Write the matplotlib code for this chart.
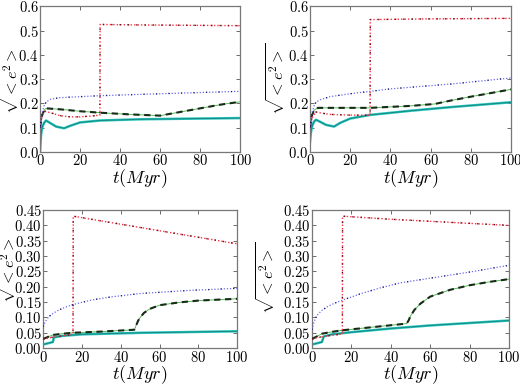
import matplotlib
matplotlib.use("Agg")
import matplotlib.pyplot as plt
from matplotlib.ticker import FuncFormatter, MultipleLocator

plt.rcParams['mathtext.fontset'] = 'cm'
plt.rcParams['font.family'] = 'serif'
plt.rcParams['font.serif'] = ['DejaVu Serif']

# ---- data (t in Myr, values sqrt(<e^2>)) ----
# top-left
tl_red_t = [0, 1, 2.5, 6, 10, 15, 20, 25, 29.9, 30, 50, 100]
tl_red_y = [0.10, 0.15, 0.168, 0.16, 0.15, 0.145, 0.145, 0.148, 0.152, 0.525, 0.523, 0.52]
tl_blue_t = [0, 1, 2, 3, 5, 10, 20, 30, 60, 100]
tl_blue_y = [0.10, 0.16, 0.19, 0.205, 0.217, 0.224, 0.228, 0.232, 0.24, 0.25]
tl_green_t = [0, 1, 2, 3, 10, 20, 30, 45, 60, 62, 70, 80, 90, 100]
tl_green_y = [0.10, 0.15, 0.172, 0.18, 0.176, 0.168, 0.162, 0.155, 0.15, 0.153, 0.165, 0.18, 0.195, 0.207]
tl_cyan_t = [0, 0.5, 1, 2, 3, 5, 8, 12, 15, 20, 30, 50, 100]
tl_cyan_y = [0.0, 0.07, 0.1, 0.12, 0.13, 0.12, 0.105, 0.098, 0.108, 0.122, 0.13, 0.135, 0.14]

# top-right
tr_red_t = [0, 1, 3, 6, 10, 20, 29.9, 30, 60, 100]
tr_red_y = [0.10, 0.14, 0.165, 0.16, 0.155, 0.152, 0.152, 0.545, 0.548, 0.55]
tr_blue_t = [0, 1, 2, 3, 5, 10, 20, 30, 40, 70, 100]
tr_blue_y = [0.10, 0.16, 0.19, 0.205, 0.215, 0.228, 0.24, 0.25, 0.26, 0.28, 0.305]
tr_green_t = [0, 1, 2, 4, 10, 30, 50, 62, 70, 80, 90, 100]
tr_green_y = [0.10, 0.15, 0.172, 0.182, 0.182, 0.182, 0.19, 0.198, 0.212, 0.228, 0.243, 0.258]
tr_cyan_t = [0, 0.5, 1, 2, 3, 5, 8, 12, 15, 20, 30, 50, 70, 100]
tr_cyan_y = [0.04, 0.08, 0.105, 0.125, 0.133, 0.125, 0.112, 0.105, 0.12, 0.138, 0.153, 0.17, 0.185, 0.205]

# bottom-left
bl_red_t = [0, 2, 5, 10, 15.4, 15.5, 100]
bl_red_y = [0.03, 0.032, 0.036, 0.04, 0.045, 0.43, 0.34]
bl_blue_t = [0, 1, 2, 3, 5, 8, 12, 16, 25, 35, 50, 75, 100]
bl_blue_y = [0.07, 0.085, 0.095, 0.103, 0.113, 0.124, 0.135, 0.143, 0.157, 0.167, 0.178, 0.188, 0.195]
bl_green_t = [0, 3, 5, 10, 15, 30, 47, 48, 49, 50, 52, 55, 60, 70, 80, 100]
bl_green_y = [0.03, 0.038, 0.043, 0.047, 0.05, 0.054, 0.06, 0.075, 0.09, 0.1, 0.115, 0.128, 0.14, 0.149, 0.155, 0.161]
bl_cyan_t = [0, 2, 5, 5.5, 10, 20, 50, 100]
bl_cyan_y = [0.012, 0.015, 0.02, 0.035, 0.04, 0.045, 0.05, 0.055]

# bottom-right
br_red_t = [0, 2, 5, 10, 15.4, 15.5, 40, 100]
br_red_y = [0.03, 0.033, 0.037, 0.042, 0.046, 0.43, 0.42, 0.40]
br_blue_t = [0, 1, 2, 3, 5, 8, 12, 17, 25, 35, 45, 60, 80, 100]
br_blue_y = [0.06, 0.085, 0.1, 0.11, 0.123, 0.136, 0.148, 0.16, 0.178, 0.197, 0.213, 0.228, 0.248, 0.27]
br_green_t = [0, 3, 5, 10, 15, 30, 48, 49, 50, 52, 55, 60, 70, 80, 90, 100]
br_green_y = [0.03, 0.04, 0.047, 0.053, 0.058, 0.068, 0.08, 0.09, 0.105, 0.125, 0.145, 0.168, 0.19, 0.205, 0.216, 0.225]
br_cyan_t = [0, 2, 5, 6, 10, 20, 40, 60, 80, 100]
br_cyan_y = [0.012, 0.015, 0.02, 0.038, 0.045, 0.052, 0.064, 0.074, 0.082, 0.09]

panels = [
    dict(rect=[0.077, 0.609, 0.385, 0.375], ymax=0.6, ystep=0.1, fmt='%.1f',
         ylab=(-0.092, 0.51),
         red=(tl_red_t, tl_red_y), blue=(tl_blue_t, tl_blue_y),
         green=(tl_green_t, tl_green_y), cyan=(tl_cyan_t, tl_cyan_y)),
    dict(rect=[0.596, 0.609, 0.387, 0.375], ymax=0.6, ystep=0.1, fmt='%.1f',
         ylab=(-0.11, 0.50),
         red=(tr_red_t, tr_red_y), blue=(tr_blue_t, tr_blue_y),
         green=(tr_green_t, tr_green_y), cyan=(tr_cyan_t, tr_cyan_y)),
    dict(rect=[0.083, 0.105, 0.373, 0.355], ymax=0.45, ystep=0.05, fmt='%.2f',
         ylab=(-0.125, 0.59),
         red=(bl_red_t, bl_red_y), blue=(bl_blue_t, bl_blue_y),
         green=(bl_green_t, bl_green_y), cyan=(bl_cyan_t, bl_cyan_y)),
    dict(rect=[0.600, 0.105, 0.379, 0.355], ymax=0.45, ystep=0.05, fmt='%.2f',
         ylab=(-0.17, 0.51),
         red=(br_red_t, br_red_y), blue=(br_blue_t, br_blue_y),
         green=(br_green_t, br_green_y), cyan=(br_cyan_t, br_cyan_y)),
]

fig = plt.figure(figsize=(5.2, 3.89), dpi=100)

for p in panels:
    ax = fig.add_axes(p['rect'])
    t, y = p['cyan']
    ax.plot(t, y, color='#22c4bc', lw=1.8, zorder=2)
    ax.plot(t, y, color='#1a7f7a', lw=0.6, zorder=2.1)
    t, y = p['green']
    ax.plot(t, y, color='#3cb03c', lw=0.6, zorder=3)
    ax.plot(t, y, color='#1a2a1a', lw=1.5, ls=(0, (3, 2.2)), zorder=3.1)
    t, y = p['red']
    ax.plot(t, y, color='#ff3040', lw=1.0, ls=(0, (1, 1.5)), zorder=4)
    ax.plot(t, y, color='#601020', lw=1.0, ls=(0, (1, 5)), zorder=4.1)
    t, y = p['blue']
    ax.plot(t, y, color='#6a6af0', lw=0.9, ls=(0, (1, 1.5)), zorder=5)
    ax.plot(t, y, color='#202060', lw=0.9, ls=(0, (1, 9)), zorder=5.1)

    ax.set_xlim(0, 100)
    ax.set_ylim(0, p['ymax'])
    ax.xaxis.set_major_locator(MultipleLocator(20))
    ax.yaxis.set_major_locator(MultipleLocator(p['ystep']))
    fmt = p['fmt']
    ax.yaxis.set_major_formatter(FuncFormatter(lambda v, pos, f=fmt: r'$%s$' % (f % v)))
    ax.xaxis.set_major_formatter(FuncFormatter(lambda v, pos: r'$%d$' % round(v)))
    ax.tick_params(direction='in', top=True, right=True, labelsize=10.5,
                   length=3, width=0.6, color='#555555', pad=1)
    for s in ax.spines.values():
        s.set_color('#777777')
        s.set_linewidth(0.9)
    ax.set_xlabel(r'$t(Myr)$', fontsize=13, labelpad=-1)
    ax.set_ylabel(r'$\sqrt{<e^2>}$', fontsize=11.5)
    ax.yaxis.set_label_coords(*p['ylab'])

fig.savefig('out.png', dpi=100)
